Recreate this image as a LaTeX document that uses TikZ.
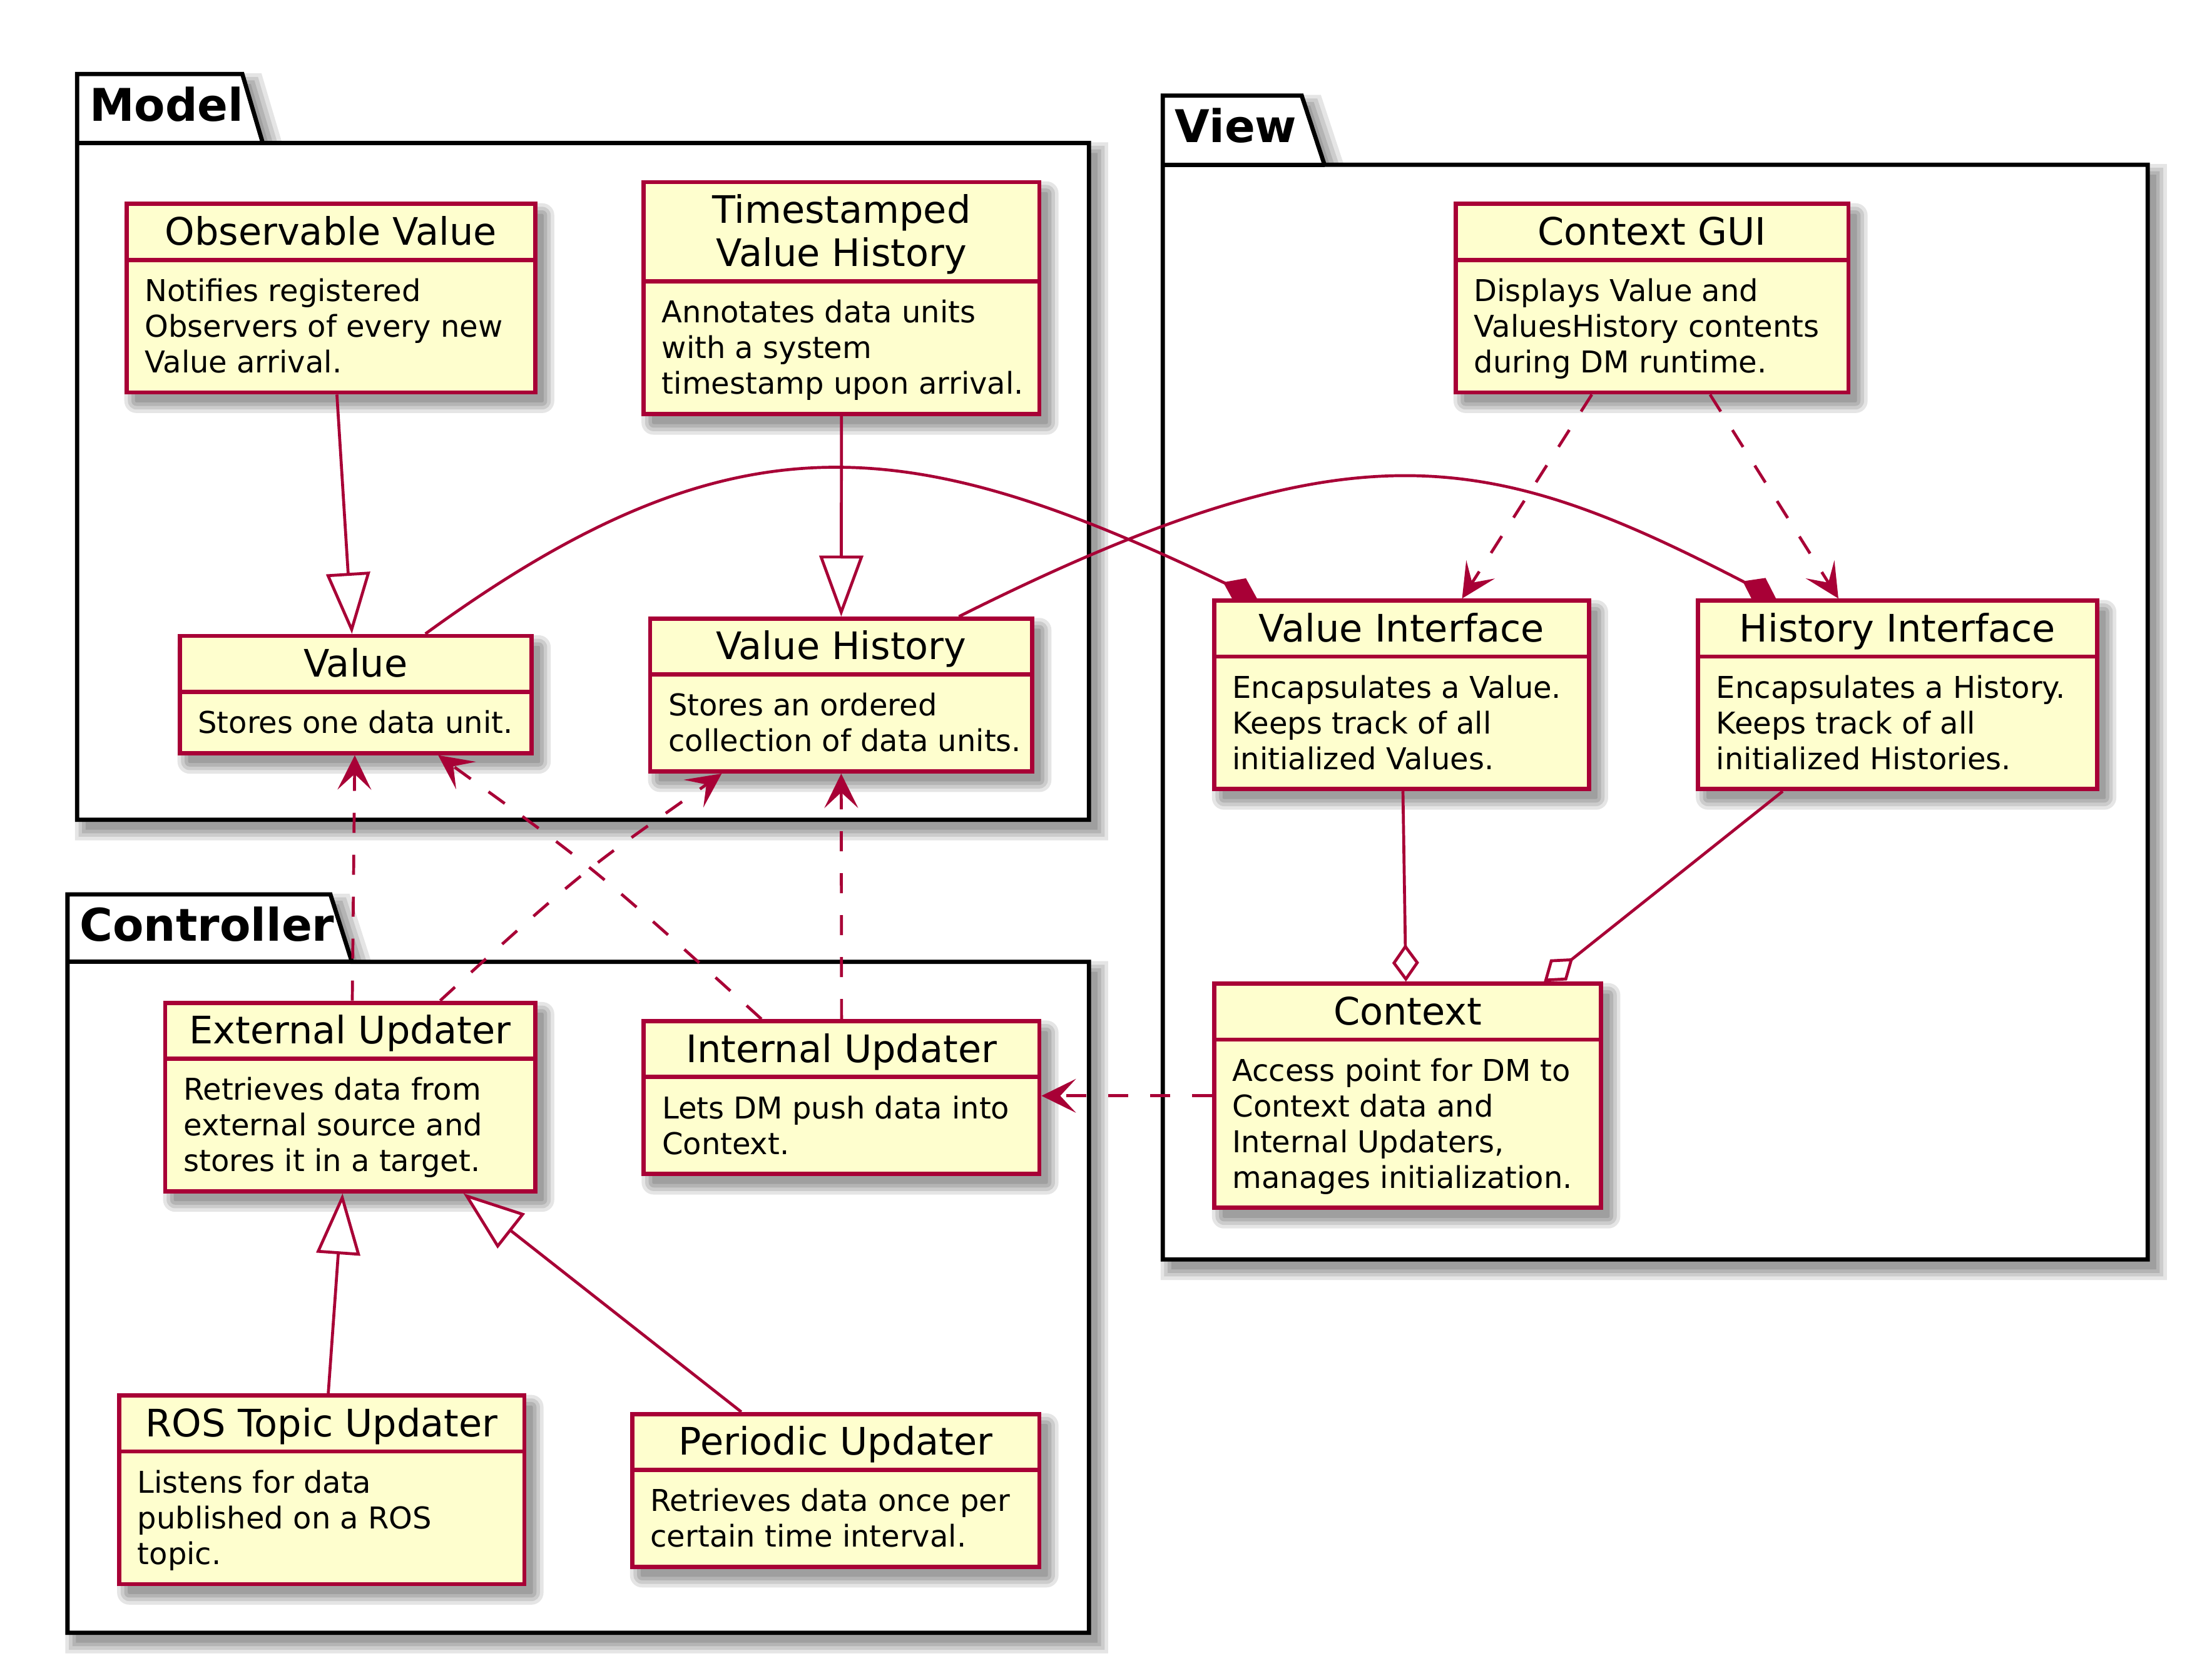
\documentclass[tikz,border=0pt]{standalone}
\usepackage{fontspec}
\setmainfont{DejaVu Sans}
\usetikzlibrary{arrows.meta,calc}
\definecolor{umlred}{HTML}{A80036}
\definecolor{umlfill}{HTML}{FEFECE}
\definecolor{shadowc}{gray}{0.3}
\def\unitlen{0.4532pt}

\tikzset{
  clsbox/.style={rectangle, draw=umlred, fill=umlfill, line width=1.36pt, inner sep=0pt},
  clsedge/.style={draw=umlred, line width=1.36pt},
  clstitle/.style={inner sep=0pt, text=black, font=\fontsize{12.1}{13.9}\selectfont},
  clsbody/.style={inner sep=0pt, text=black, font=\fontsize{9.6}{11.4}\selectfont},
  pkgedge/.style={draw=black, line width=1.36pt, line join=miter},
  pkgtitle/.style={inner sep=0pt, text=black, font=\fontsize{14.4}{17}\selectfont\bfseries},
  conn/.style={draw=umlred, line width=0.94pt},
  depline/.style={conn, dash pattern=on 6.4pt off 7pt},
  gentip/.tip={Triangle[length=19.5pt, width=14pt, fill=white]},
  deptip/.tip={Stealth[length=11pt, width=10.8pt, inset=5pt]},
  comptip/.tip={Diamond[length=12pt, width=8.6pt]},
  aggtip/.tip={Diamond[length=12pt, width=8.6pt, fill=white]},
}

% blurred drop shadow of a rectangle: l t r b
\newcommand{\umlshadow}[4]{%
  \foreach \ee/\oo in {7.5/0.14,5/0.16,2.5/0.18,0/0.2}{%
    \fill[shadowc, fill opacity=\oo, rounded corners={(\ee+1)*\unitlen}]
      ({#1+6-\ee},{#2+7-\ee}) rectangle ({#3+6+\ee},{#4+7+\ee});
  }%
}

% class: name, l, t, r, extra header height, body lines, title, body
\newcommand{\umlclass}[8]{%
  \pgfmathsetmacro{\clsdv}{#3+39.4+#5}%
  \pgfmathsetmacro{\clsbt}{\clsdv+43.2+(#6-1)*25.15}%
  \umlshadow{#2}{#3}{#4}{\clsbt}%
  \node[clsbox, minimum width={(#4-#2)*\unitlen}, minimum height={(\clsbt-#3)*\unitlen}]
    (#1) at ({(#2+#4)/2},{(#3+\clsbt)/2}) {};%
  \draw[clsedge] (#2,\clsdv) -- (#4,\clsdv);%
  \node[clstitle, anchor=base] (#1-title) at ({(#2+#4)/2},{#3+28.9}) {#7};%
  \node[clsbody, anchor=base west] (#1-body) at ({#2+12.5},{\clsdv+29.2})
    {\begin{tabular}[t]{@{}l@{}}#8\end{tabular}};%
}

% package: name, L, tab top, tab right, slant end, body top, R, B, label
\newcommand{\umlpkg}[9]{%
  \foreach \ee/\oo in {7.5/0.14,5/0.16,2.5/0.18,0/0.2}{%
    \fill[shadowc, fill opacity=\oo]
      ({#2+6-\ee},{#3+7-\ee}) -- ({#4+6+\ee},{#3+7-\ee}) -- ({#5+6+\ee},{#6+7-\ee})
      -- ({#7+6+\ee},{#6+7-\ee}) -- ({#7+6+\ee},{#8+7+\ee}) -- ({#2+6-\ee},{#8+7+\ee}) -- cycle;
  }%
  \draw[pkgedge, fill=white] (#2,#3) -- (#4,#3) -- (#5,#6) -- (#7,#6) -- (#7,#8) -- (#2,#8) -- cycle;%
  \draw[pkgedge] (#2,#6) -- (#5,#6);%
  \node[pkgtitle, anchor=base west] (#1) at ({#2+8.3},{#3+33}) {#9};%
}

\begin{document}
\begin{tikzpicture}[x=0.4532pt, y=-0.4532pt]
\fill[white] (0,0) rectangle (1560,1176.06);
\useasboundingbox (0,0) rectangle (1560,1176.06);

% packages
\umlpkg{model}{54.4}{52.2}{170.9}{185.3}{100.8}{768}{578}{Model}
\umlpkg{view}{820}{67.4}{918}{934.1}{116.2}{1514.6}{888}{View}
\umlpkg{controller}{47.6}{630.6}{233}{248.2}{678.2}{768}{1151.2}{Controller}

% classes
\umlclass{obs}{89.2}{143.8}{377.4}{0}{3}{Observable Value}{Notifies registered\\Observers of every new\\Value arrival.}
\umlclass{ts}{453.9}{128.4}{733}{30.7}{3}{\begin{tabular}[t]{@{}c@{}}Timestamped\\Value History\end{tabular}}{Annotates data units\\with a system\\timestamp upon arrival.}
\umlclass{value}{126.7}{448.4}{374.9}{0}{1}{Value}{Stores one data unit.}
\umlclass{vh}{458.5}{436.2}{728}{0}{2}{Value History}{Stores an ordered\\collection of data units.}
\umlclass{gui}{1026.6}{143.8}{1303.6}{0}{3}{Context GUI}{Displays Value and\\ValuesHistory contents\\during DM runtime.}
\umlclass{vi}{856.2}{423.5}{1120.6}{0}{3}{Value Interface}{Encapsulates a Value.\\Keeps track of all\\initialized Values.}
\umlclass{hi}{1197.5}{423.5}{1479}{0}{3}{History Interface}{Encapsulates a History.\\Keeps track of all\\initialized Histories.}
\umlclass{ctx}{856.2}{693.6}{1129.2}{0}{4}{Context}{Access point for DM to\\Context data and\\Internal Updaters,\\manages initialization.}
\umlclass{ext}{116.5}{707}{377.4}{0}{3}{External Updater}{Retrieves data from\\external source and\\stores it in a target.}
\umlclass{int}{454}{720}{733}{0}{2}{Internal Updater}{Lets DM push data into\\Context.}
\umlclass{ros}{84.1}{984}{369.8}{0}{3}{ROS Topic Updater}{Listens for data\\published on a ROS\\topic.}
\umlclass{per}{445.8}{997}{733}{0}{2}{Periodic Updater}{Retrieves data once per\\certain time interval.}

% generalizations
\draw[conn, -gentip] ($(obs.south)+(4.3,0)$) -- ($(value.north)+(-2.6,0)$);
\draw[conn, -gentip] (ts.south) -- (vh.north);
\draw[conn, -gentip] ($(ros.north)+(4.55,0)$) -- ($(ext.south)+(-5.35,0)$);
\draw[conn, -gentip] ($(per.north)+(-66.6,0)$) -- ($(ext.south)+(79.85,0)$);

% compositions
\draw[conn, -comptip] ($(value.north)+(49.2,0)$) .. controls +(218.7,-159.4) and +(-244,-116.8) .. ($(vi.north)+(-101.9,0)$);
\draw[conn, -comptip] ($(vh.north)+(83,0)$) .. controls +(277.1,-138.6) and +(-204.2,-105.6) .. ($(hi.north)+(-85.75,0)$);

% aggregations
\draw[conn, -aggtip] ($(vi.south)+(1,0)$) -- ($(ctx.north)+(-1.2,0)$);
\draw[conn, -aggtip] ($(hi.south)+(-81,0)$) -- ($(ctx.north)+(96.1,0)$);

% dependencies
\draw[depline, -deptip] ($(gui.south)+(-42.5,0)$) -- ($(vi.north)+(42.7,0)$);
\draw[depline, -deptip] ($(gui.south)+(40.9,0)$) -- ($(hi.north)+(-41.75,0)$);
\draw[depline, -deptip] ($(ext.north)+(1.5,0)$) -- ($(value.south)+(-0.6,0)$);
\draw[depline, -deptip] ($(ext.north)+(63.5,0)$) .. controls +(106.8,-98) and +(-91.7,65.2) .. ($(vh.south)+(-84.3,0)$);
\draw[depline, -deptip] ($(int.north)+(-56.5,0)$) .. controls +(-124.1,-112.6) and +(103.9,75.4) .. ($(value.south)+(58.2,0)$);
\draw[depline, -deptip] (int.north) -- (vh.south);
\draw[depline, -deptip] (ctx.west) -- (int.east |- ctx.west);
\end{tikzpicture}
\end{document}
